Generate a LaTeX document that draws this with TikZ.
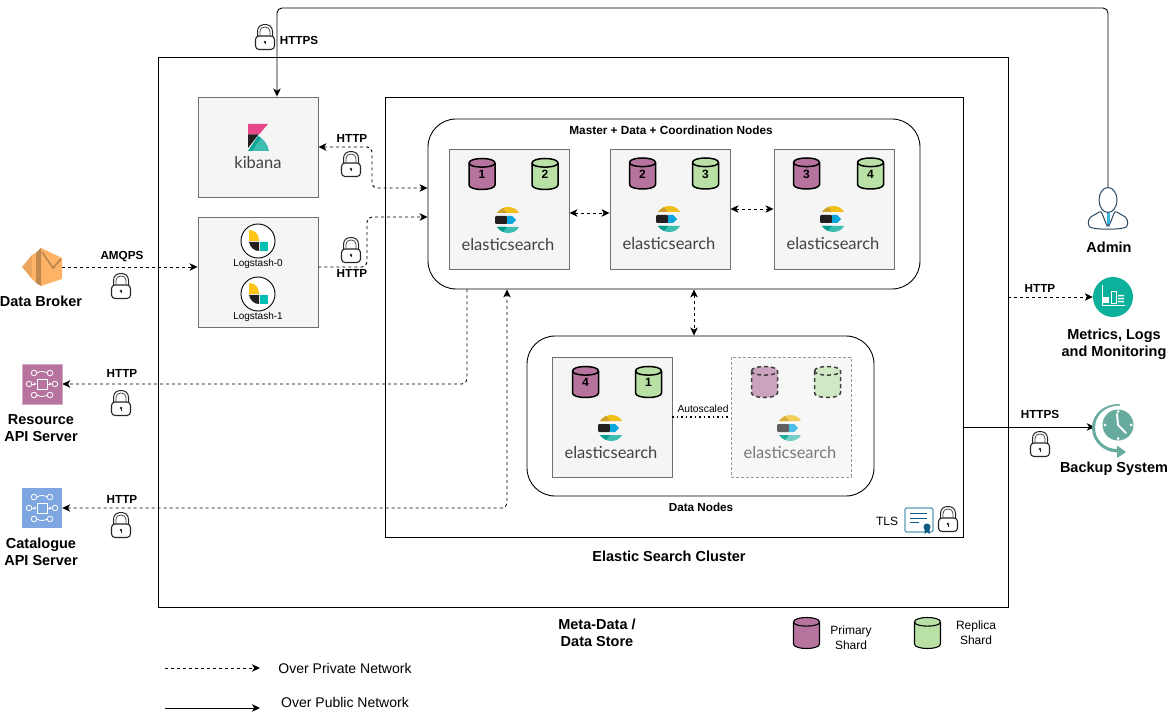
\documentclass[tikz,border=0pt]{standalone}
\usepackage{fontspec}
\setmainfont{Liberation Sans}
\newfontfamily\logofont{Lato}
\usetikzlibrary{arrows.meta,calc}
\definecolor{primaryc}{HTML}{B5739D}
\definecolor{replicac}{HTML}{B9E0A5}
\definecolor{primaryl}{HTML}{CDA2BE}
\definecolor{replical}{HTML}{D0E8C3}
\definecolor{boxfill}{HTML}{F5F5F5}
\definecolor{boxline}{HTML}{707070}
\definecolor{esyellow}{HTML}{F0BF1A}
\definecolor{esgold}{HTML}{CFA02E}
\definecolor{esblue}{HTML}{07A5DE}
\definecolor{esteal}{HTML}{3EBEB0}
\definecolor{esdteal}{HTML}{019B8F}
\definecolor{esblack}{HTML}{231F20}
\definecolor{kibpink}{HTML}{E8488B}
\definecolor{lsyellow}{HTML}{FEC514}
\definecolor{lsteal}{HTML}{00BFB3}
\definecolor{brokerl}{HTML}{FFB366}
\definecolor{brokerd}{HTML}{BF8A50}
\definecolor{catc}{HTML}{7EA6E0}
\definecolor{navy}{HTML}{2C4A63}
\definecolor{metricc}{HTML}{0DB09A}
\definecolor{backupc}{HTML}{67AB9F}
\definecolor{certc}{HTML}{5B9DB5}
\definecolor{certd}{HTML}{0B5C80}
\tikzset{
  x=1pt,y=-1pt,
  frame/.style={draw=black,line width=.9pt,fill=white,inner sep=0},
  grey box/.style={draw=boxline,line width=.9pt,fill=boxfill,inner sep=0},
  ghost box/.style={draw=black!40,line width=.9pt,dash pattern=on 3pt off 2pt,fill=black!3,inner sep=0},
  round frame/.style={frame,rounded corners=28pt},
  icon spot/.style={inner sep=0,minimum width=#1,minimum height=#1},
  bold label/.style={inner sep=0,align=center,font=\bfseries\fontsize{14.5}{17}\selectfont},
  link label/.style={inner sep=0,font=\bfseries\fontsize{11.7}{13}\selectfont},
  plain label/.style={inner sep=0,align=center,font=\fontsize{12}{15}\selectfont},
  legend label/.style={inner sep=0,font=\fontsize{14}{16}\selectfont},
  es text/.style={inner sep=0,font=\logofont\fontsize{16.5}{20}\selectfont},
  wire/.style={line width=.9pt,rounded corners=5pt},
  privatewire/.style={wire,dash pattern=on 3pt off 3pt},
  both tips/.style={{Stealth[length=8pt,width=7.5pt,inset=2.2pt]}-{Stealth[length=8pt,width=7.5pt,inset=2.2pt]}},
  end tip/.style={-{Stealth[length=8pt,width=7.5pt,inset=2.2pt]}},
  pics/lock/.style={code={
    \draw[line width=1.1pt,draw=black!85,fill=white,rounded corners=3.5pt] (-9.5,-1) rectangle (9.5,12.5);
    \draw[line width=1pt,draw=black!85] (-7.5,-1) -- (-7.5,-5.5) .. controls (-7.5,-10.5) and (-4,-12.5) .. (0,-12.5) .. controls (4,-12.5) and (7.5,-10.5) .. (7.5,-5.5) -- (7.5,-1);
    \draw[line width=.8pt,draw=black!70] (-5,-1) -- (-5,-5.5) .. controls (-5,-8.5) and (-3,-10) .. (0,-10) .. controls (3,-10) and (5,-8.5) .. (5,-5.5) -- (5,-1);
    \fill[black!85] (0,5) circle[radius=1.4];
    \draw[line width=.7pt,black!85] (0,5) -- (0,7.5);
  }},
  pics/shard/.style n args={3}{code={
    \path[draw=black,line width=1.5pt,fill=#1,#2] (-13,-11) -- (-13,11) .. controls (-13,17) and (13,17) .. (13,11) -- (13,-11) .. controls (13,-17) and (-13,-17) .. (-13,-11) -- cycle;
    \path[draw=black,line width=1.5pt,#2] (-13,-11) .. controls (-13,-5.5) and (13,-5.5) .. (13,-11);
    \node[inner sep=0,font=\bfseries\fontsize{12}{12}\selectfont] at (0,0.5) {#3};
  }},
  pics/elastic/.style={code={
    \begin{scope}[opacity=#1]
    \fill[esyellow] (-12,-7) .. controls (-9,-11) and (-5,-13) .. (-1,-13) .. controls (4,-13) and (8,-11) .. (10,-7) -- cycle;
    \fill[esgold] (-12,-7) .. controls (-10,-9.5) and (-8,-11) .. (-6,-12) -- (-2,-7) -- cycle;
    \fill[esblack,rounded corners=1pt] (-14,-4) rectangle (-2,4);
    \fill[esblue] (-2,-4) -- (3,-4) -- (7,0) -- (3,4) -- (-2,4) -- cycle;
    \fill[esteal] (-12,7) .. controls (-9,11) and (-5,13) .. (-1,13) .. controls (4,13) and (8,11) .. (10,7) -- cycle;
    \fill[esdteal] (-12,7) .. controls (-10,9.5) and (-8,11) .. (-6,12) -- (-2,7) -- cycle;
    \node[es text,text=esblack!85] at (-1,24.5) {elasticsearch};
    \end{scope}
  }},
  pics/logstash/.style={code={
    \draw[line width=.9pt,fill=white] (0,0) circle[radius=17];
    \fill[lsyellow] (-9,-11) .. controls (-3,-11) and (1,-7) .. (1,0) -- (-9,0) -- cycle;
    \fill[esblack] (-9,1) -- (1,1) -- (1,10) .. controls (-4,10) and (-8,6) .. (-9,1) -- cycle;
    \fill[lsteal] (1.5,1) rectangle (10,10);
  }},
  pics/apiicon/.style={code={
    \begin{scope}[draw=white,line width=.8pt]
    \draw (-5,-5) rectangle (5,5);
    \foreach \px/\py in {-13/0,13/0,-8/-11,8/-11,-8/11,8/11}{\draw (\px,\py) circle[radius=2.8];}
    \draw (-5.2,-11) .. controls (-2,-13) and (2,-13) .. (5.2,-11);
    \draw (-5.2,11) .. controls (-2,13) and (2,13) .. (5.2,11);
    \draw[-{Stealth[length=3pt,width=3pt]}] (-10,0) -- (-5.5,0);
    \draw[-{Stealth[length=3pt,width=3pt]}] (5,0) -- (10,0);
    \end{scope}
  }},
}
\begin{document}
\begin{tikzpicture}
\useasboundingbox (0,0) rectangle (1167,719);
\fill[white] (0,0) rectangle (1167,719);

% frames
\node[frame,minimum width=850pt,minimum height=550pt] (store) at (583,332) {};
\node[frame,minimum width=578pt,minimum height=440pt] (cluster) at (674,317) {};
\node[round frame,minimum width=492pt,minimum height=170pt] (master) at (674,204) {};
\node[round frame,minimum width=347pt,minimum height=160pt] (datanodes) at (700.5,416) {};

% grey boxes
\node[grey box,minimum width=120pt,minimum height=100pt] (kibana) at (258,147) {};
\node[grey box,minimum width=120pt,minimum height=110pt] (logstash) at (258,272) {};
\node[grey box,minimum width=120pt,minimum height=120pt] (esa) at (509,209) {};
\node[grey box,minimum width=120pt,minimum height=120pt] (esb) at (670,209) {};
\node[grey box,minimum width=120pt,minimum height=120pt] (esc) at (834,209) {};
\node[grey box,minimum width=120pt,minimum height=120pt] (esd) at (612,417) {};
\node[ghost box,minimum width=120pt,minimum height=120pt] (ese) at (791,417) {};

% icon spots
\node[icon spot=40pt] (broker) at (42,267) {};
\node[icon spot=40pt,fill=primaryc,draw=primaryc!60!white,line width=.6pt] (resource) at (42,384) {};
\node[icon spot=40pt,fill=catc] (catalogue) at (42,508) {};
\node[icon spot=42pt] (admin) at (1108,208) {};
\node[icon spot=40pt,circle,fill=metricc] (metrics) at (1113,297) {};
\node[icon spot=40pt] (backup) at (1115,427) {};

% waypoints
\coordinate (topRun) at (700,8);
\coordinate (kibanaDrop) at (277,60);
\coordinate (kibanaBend) at (372,188);
\coordinate (logstashBend) at (367,217);
\coordinate (resourceDrop) at (467,340);
\coordinate (catalogueRise) at (507,400);
\coordinate (masterDataX) at (694,310);
\coordinate (privateFrom) at (165,668);
\coordinate (privateTo) at (260,668);
\coordinate (publicFrom) at (165,708);
\coordinate (publicTo) at (260,708);

% connectors
\draw[wire,end tip] (admin.north) -- (admin.north |- topRun) -- (topRun -| kibanaDrop) -- (kibana.north -| kibanaDrop);
\draw[privatewire,both tips] (kibana.east) -- (kibana.east -| kibanaBend) -- (kibanaBend) -- (kibanaBend -| master.west);
\draw[privatewire,end tip] (broker.east -| logstash.east) -- (broker.east -| logstashBend) -- (logstashBend) -- (logstashBend -| master.west);
\draw[privatewire,end tip] (broker.east) -- (broker.east -| logstash.west);
\draw[privatewire,end tip] (master.south -| resourceDrop) -- (resource.east -| resourceDrop) -- (resource.east);
\draw[privatewire,both tips] (catalogue.east) -- (catalogue.east -| catalogueRise) -- (master.south -| catalogueRise);
\draw[privatewire,both tips] ($(esa.east)+(0,4)$) -- ($(esb.west)+(0,4)$);
\draw[privatewire,both tips] (esb.east) -- (esc.west);
\draw[privatewire,both tips] (master.south -| masterDataX) -- (datanodes.north -| masterDataX);
\draw[line width=1.2pt,dash pattern=on 1.3pt off 3.2pt] (esd.east) -- (ese.west);
\draw[privatewire,end tip] (store.east |- metrics.west) -- (metrics.west);
\draw[wire,end tip] (cluster.east |- backup.west) -- (backup.west);
\draw[privatewire,end tip] (privateFrom) -- (privateTo);
\draw[wire,end tip] (publicFrom) -- (publicTo);

% shards
\pic at (482,174) {shard={primaryc}{}{1}};
\pic at (545,174) {shard={replicac}{}{2}};
\pic at (642.5,173.5) {shard={primaryc}{}{2}};
\pic at (705.5,173.5) {shard={replicac}{}{3}};
\pic at (806.5,173.5) {shard={primaryc}{}{3}};
\pic at (870.5,173.5) {shard={replicac}{}{4}};
\pic at (585.5,382) {shard={primaryc}{}{4}};
\pic at (648.5,382) {shard={replicac}{}{1}};
\pic at (764.5,382) {shard={primaryl}{draw=black!75,dash pattern=on 4pt off 3pt}{}};
\pic at (827.5,382) {shard={replical}{draw=black!75,dash pattern=on 4pt off 3pt}{}};
\pic at (806.5,633) {shard={primaryc}{line width=1.1pt}{}};
\pic at (927.5,633) {shard={replicac}{line width=1.1pt}{}};

% elastic logos
\pic at (509,220) {elastic=1};
\pic at (670,219) {elastic=1};
\pic at (834,219) {elastic=1};
\pic at (612,428) {elastic=1};
\pic at (791,428) {elastic=.7};

% kibana logo
\fill[kibpink] (248,124) -- (268,124) -- (259,134.5) -- (248,134.5) -- cycle;
\fill[esblack] (248,134.5) -- (258.5,134.5) -- (248,148) -- cycle;
\fill[esteal] (248,151) -- (258,136) .. controls (264,139) and (268,145) .. (269,151) -- cycle;
\fill[esdteal!70!esteal] (248,151) -- (258,136) -- (261,138) -- (252,151) -- cycle;
\node[es text,text=esblack!85] (kibanaText) at (258,162) {kibana};

% logstash logos
\pic at (258,241) {logstash};
\pic at (258,294) {logstash};
\node[inner sep=0,font=\fontsize{10}{11}\selectfont] (ls0) at (258,264) {Logstash-0};
\node[inner sep=0,font=\fontsize{10}{11}\selectfont] (ls1) at (258,317) {Logstash-1};

% broker icon
\fill[brokerl!65!brokerd] (22,267) -- (32,255) -- (32,279) -- cycle;
\fill[brokerl] (32,255) -- (36,253) -- (36,283) -- (32,279) -- cycle;
\fill[brokerl] (41,248) -- (62,258) -- (62,279) -- (41,286) -- cycle;
\fill[brokerd] (36,253) -- (41,248) -- (41,286) -- (36,283) -- cycle;
\draw[brokerd,line width=1.8pt] (42,252) -- (53,268) -- (61,259);

% api icons
\pic at (resource) {apiicon};
\pic at (catalogue) {apiicon};

% admin icon
\draw[navy,line width=1pt,fill=white] (1108,200) ellipse[x radius=9,y radius=12.5];
\draw[navy,line width=1pt,rounded corners=2pt] (1101,211) -- (1089,218) -- (1088,226) .. controls (1095,230) and (1121,230) .. (1128,226) -- (1127,218) -- (1115,211) -- (1109,226) -- (1107,226) -- cycle;
\fill[esblue!80!white] (1106.5,213.5) rectangle (1109.5,224);

% metrics icon
\fill[white] (1103,297) rectangle (1109,303);
\draw[white,line width=.8pt] (1111.5,291) rectangle (1116.5,303);
\fill[white] (1118,295) rectangle (1124,296.5) (1118,298) rectangle (1124,299.5) (1118,301) rectangle (1124,302.5);
\draw[white,line width=.7pt] (1102,285) -- (1102,305) -- (1125,305);

% backup icon
\fill[backupc] (1118,425) circle[radius=15.5];
\fill[backupc] (1120,405.5) .. controls (1104,405.5) and (1095,416) .. (1095,428) .. controls (1095,440) and (1105,449) .. (1117,449) -- (1117,445.5) -- (1126,452) -- (1117,458) -- (1117,452.5) .. controls (1103,452) and (1092,441) .. (1092,428) .. controls (1092,414) and (1104,403.5) .. (1120,404) -- cycle;
\draw[white,line width=2pt,line cap=round,line join=round] (1117,414) -- (1118,425) -- (1126,433);
\fill[white] (1118,411.5) circle[radius=1.5] (1118,438.5) circle[radius=1.5] (1105,425) circle[radius=1.5] (1131,425) circle[radius=1.5];

% certificate
\node[draw=certc,line width=1.1pt,fill=white,rounded corners=1.5pt,minimum width=28pt,minimum height=24pt,inner sep=0] (cert) at (919,520) {};
\draw[certd,line width=1pt] (910,513.5) -- (927,513.5) (910,518) -- (927,518) (910,522) -- (919,522);
\fill[certd] (927,527) circle[radius=3.5];
\fill[certd] (924.5,528) -- (929.5,528) -- (929.5,534) -- (927,532) -- (924.5,534) -- cycle;

% locks
\pic at (265,37) {lock};
\pic at (351,164) {lock};
\pic at (351,250) {lock};
\pic at (121,286) {lock};
\pic at (121,403) {lock};
\pic at (121,525) {lock};
\pic at (1040,444) {lock};
\pic at (948,519) {lock};

% link labels
\node[link label] (lHttpsTop) at (299,40.5) {HTTPS};
\node[link label] (lHttpKib) at (352,138.5) {HTTP};
\node[link label] (lHttpLog) at (352,273.5) {HTTP};
\node[link label] (lAmqps) at (122,257) {AMQPS};
\node[link label] (lHttpRes) at (122,373) {HTTP};
\node[link label] (lHttpCat) at (122,499) {HTTP};
\node[link label] (lHttpMet) at (1040,288) {HTTP};
\node[link label] (lHttpsBak) at (1040,414.5) {HTTPS};

% titles
\node[link label,font=\bfseries\fontsize{11.8}{13}\selectfont] (tMaster) at (671,130) {Master + Data + Coordination Nodes};
\node[link label] (tData) at (701,507) {Data Nodes};
\node[plain label,font=\fontsize{10.3}{12}\selectfont] (tAuto) at (703,408.5) {Autoscaled};
\node[plain label] (tTls) at (887,521.5) {TLS};
\node[bold label] (tCluster) at (669,556.5) {Elastic Search Cluster};
\node[bold label] (tStore) at (597,633) {Meta-Data /\\Data Store};
\node[bold label] (tBroker) at (41,301.5) {Data Broker};
\node[bold label] (tResource) at (41,428.5) {Resource\\API Server};
\node[bold label] (tCatalogue) at (41,552) {Catalogue\\API Server};
\node[bold label] (tAdmin) at (1109,247.5) {Admin};
\node[bold label] (tMetrics) at (1114,344.5) {Metrics, Logs\\and Monitoring};
\node[bold label] (tBackup) at (1114,469) {Backup System};
\node[plain label] (tPrimary) at (851,638) {Primary\\Shard};
\node[plain label] (tReplica) at (976,633) {Replica\\Shard};
\node[legend label] (tPrivate) at (345,668) {Over Private Network};
\node[legend label] (tPublic) at (345,702) {Over Public Network};
\end{tikzpicture}
\end{document}
